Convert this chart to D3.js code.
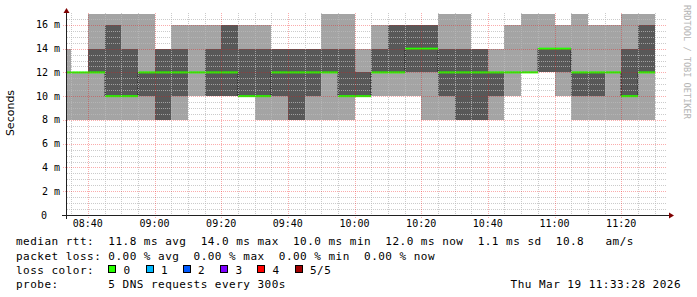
<!DOCTYPE html>
<html><head><meta charset="utf-8">
<script src="https://cdn.jsdelivr.net/npm/d3@7"></script>
<style>
body{margin:0;background:#fff}
svg{display:block}
text{font-family:"DejaVu Sans Mono",monospace;fill:#000}
</style>
</head><body>
<svg id="chart" width="697" height="297"></svg>
<script>
// ---- data (ms), one entry per 5-minute step (step end time) ----
const slotEnd = ["08:35","08:40","08:45","08:50","08:55","09:00","09:05","09:10","09:15","09:20",
  "09:25","09:30","09:35","09:40","09:45","09:50","09:55","10:00","10:05","10:10",
  "10:15","10:20","10:25","10:30","10:35","10:40","10:45","10:50","10:55","11:00",
  "11:05","11:10","11:15","11:20","11:25","11:30"];
const ping1 = [8,8,8,8,8,8,8,8,10,10, 10,10,8,8,8,8,8,8,10,10, 10,10,8,8,8,8,8,10,12,12, 10,8,8,8,8,8];
const ping2 = [12,12,12,10,10,10,8,10,12,10, 10,10,10,10,8,10,12,10,10,12, 12,12,12,10,8,8,10,12,12,12, 12,10,10,12,10,12];
const median = [12,12,12,10,10,12,12,12,12,12, 12,10,10,12,12,12,12,10,10,12, 12,14,14,12,12,12,12,12,12,14, 14,12,12,12,10,12];
const ping4 = [12,12,14,16,14,12,14,14,12,14, 16,14,14,14,14,14,14,14,12,14, 16,16,16,14,14,14,12,12,12,14, 14,12,12,12,14,16];
const ping5 = [14,12,16.9,16.9,16.9,16.9,14,16,16,16, 16,16,16,14,14,14,16.9,16.9,14,16, 16,16,16,16.9,16.9,14,14,16,16.9,16.9, 16,16.9,16,16,16.9,16.9];
const yTicks = [0,2,4,6,8,10,12,14,16];
const xTickLabels = ["08:40","09:00","09:20","09:40","10:00","10:20","10:40","11:00","11:20"];
const lossLabels = ["0","1","2","3","4","5/5"];
const lossColors = ["#26ff00","#00b8ff","#0059ff","#7e00ff","#ff0000","#a10000"];

const day = "2026-03-19 ";
const parseT = d3.timeParse("%Y-%m-%d %H:%M:%S");
const tStart = parseT(day + "08:33:45"), tEnd = parseT(day + "11:33:45");
const svg = d3.select("#chart");

const x = d3.scaleTime().domain([tStart, tEnd]).range([67, 667]);
const y = d3.scaleLinear().domain([0, 17]).range([215, 13]);

const data = slotEnd.map((s, i) => {
  const e = parseT(day + s + ":00");
  return {start: d3.timeMinute.offset(e, -5), end: e, p1: ping1[i], p2: ping2[i], med: median[i], p4: ping4[i], p5: ping5[i]};
});

svg.append("defs").append("clipPath").attr("id","plot")
  .append("rect").attr("x", x.range()[0]).attr("y", y(17)).attr("width", x.range()[1]-x.range()[0]).attr("height", y(0)-y(17));

const g = svg.append("g").attr("clip-path","url(#plot)");
const x0 = d => Math.round(x(Math.max(d.start, tStart)));
// smoke: outer band (min..max) and inner band (2nd..4th)
g.selectAll("rect.outer").data(data).join("rect").attr("class","outer")
  .attr("x", x0).attr("width", d => Math.round(x(d.end)) - x0(d))
  .attr("y", d => y(d.p5)).attr("height", d => y(d.p1) - y(d.p5))
  .attr("fill", "#a4a4a4").attr("shape-rendering","crispEdges");
g.selectAll("rect.inner").data(data).join("rect").attr("class","inner")
  .attr("x", x0).attr("width", d => Math.round(x(d.end)) - x0(d))
  .attr("y", d => y(d.p4)).attr("height", d => y(d.p2) - y(d.p4))
  .attr("fill", "#585858").attr("shape-rendering","crispEdges");

// grid on top
const gridG = svg.append("g").attr("shape-rendering","crispEdges");
const minorY = d3.range(0.5, 17, 0.5).filter(v => v % 2 !== 0);
gridG.selectAll("line.hmin").data(minorY).join("line")
  .attr("x1", 67).attr("x2", 667).attr("y1", d => Math.round(y(d))+0.5).attr("y2", d => Math.round(y(d))+0.5)
  .attr("stroke", "#bababa").attr("stroke-opacity", 0.75).attr("stroke-dasharray","1,1");
const minorX = d3.timeMinute.every(5).range(tStart, tEnd).filter(t => t.getMinutes() % 20 !== 0);
gridG.selectAll("line.vmin").data(minorX).join("line")
  .attr("y1", 13).attr("y2", 215).attr("x1", d => Math.round(x(d))+0.5).attr("x2", d => Math.round(x(d))+0.5)
  .attr("stroke", "#bababa").attr("stroke-opacity", 0.75).attr("stroke-dasharray","1,1");
gridG.selectAll("line.hmaj").data(yTicks.filter(v => v > 0)).join("line")
  .attr("x1", 63).attr("x2", 667).attr("y1", d => Math.round(y(d))+0.5).attr("y2", d => Math.round(y(d))+0.5)
  .attr("stroke", "#f01010").attr("stroke-opacity", 0.35).attr("stroke-dasharray","1,1");
const majorX = xTickLabels.map(s => parseT(day + s + ":00"));
gridG.selectAll("line.vmaj").data(majorX).join("line")
  .attr("y1", 13).attr("y2", 218).attr("x1", d => Math.round(x(d))+0.5).attr("x2", d => Math.round(x(d))+0.5)
  .attr("stroke", "#f01010").attr("stroke-opacity", 0.35).attr("stroke-dasharray","1,1");

// median: dark step line + green loss-coloured segments
const medPts = data.map(d => [Math.max(d.start, tStart), d.med]).concat([[data[data.length-1].end, data[data.length-1].med]]);
g.append("path").datum(medPts)
  .attr("d", d3.line().x(d => Math.round(x(d[0]))).y(d => y(d[1])).curve(d3.curveStepAfter))
  .attr("fill","none").attr("stroke","#202020").attr("stroke-width",1).attr("stroke-dasharray","2,1");
g.selectAll("line.med").data(data).join("line")
  .attr("x1", x0).attr("x2", d => Math.round(x(d.end)))
  .attr("y1", d => y(d.med)).attr("y2", d => y(d.med))
  .attr("stroke", lossColors[0]).attr("stroke-width", 2);

// axes
const axG = svg.append("g").attr("shape-rendering","crispEdges");
axG.append("line").attr("x1", 62).attr("x2", 670).attr("y1", 215.5).attr("y2", 215.5).attr("stroke","#202020");
axG.append("line").attr("x1", 66.5).attr("x2", 66.5).attr("y1", 219).attr("y2", 12).attr("stroke","#202020");
svg.append("path").attr("d","M669,212.5L674,215.5L669,218.5Z").attr("fill","#7f0000");
svg.append("path").attr("d","M63.5,13L66.5,8L69.5,13Z").attr("fill","#7f0000");

// y tick labels
svg.selectAll("text.ytick").data(yTicks).join("text")
  .attr("x", d => d === 0 ? 47 : 60).attr("y", d => y(d) + 3.5)
  .attr("text-anchor","end").attr("font-size", 10)
  .text(d => d === 0 ? "0" : d + " m");
// x tick labels
svg.selectAll("text.xtick").data(majorX).join("text")
  .attr("x", d => x(d)).attr("y", 226.5).attr("text-anchor","middle").attr("font-size", 10)
  .text((d, i) => xTickLabels[i]);

// axis title
svg.append("text").attr("transform","translate(14,113) rotate(-90)").attr("text-anchor","middle")
  .attr("font-size", 11).style("font-family","'DejaVu Sans',sans-serif").text("Seconds");
// watermark
svg.append("text").attr("transform","translate(684,5) rotate(90)").attr("text-anchor","start")
  .attr("font-size", 8.6).style("fill","#b4b4b4").text("RRDTOOL / TOBI OETIKER");

// legend
const fmt1 = d3.format(".1f");
const medAvg = d3.mean(median), medMax = d3.max(median), medMin = d3.min(median), medNow = median[median.length-1];
const legendRows = [
  "median rtt:  " + fmt1(medAvg) + " ms avg  " + fmt1(medMax) + " ms max  " + fmt1(medMin) + " ms min  " + fmt1(medNow) + " ms now  1.1 ms sd  10.8   am/s",
  "packet loss: 0.00 % avg  0.00 % max  0.00 % min  0.00 % now",
  "loss color:",
  "probe:       5 DNS requests every 300s"
];
const rowY = [245, 259.5, 273.5, 288];
const LS = 0.48;
svg.selectAll("text.legrow").data(legendRows).join("text").attr("class","legrow")
  .attr("x", 16).attr("y", (d, i) => rowY[i]).attr("font-size", 11).attr("letter-spacing", LS)
  .style("white-space","pre").text(d => d);
const boxX = [108, 145.5, 182.5, 220, 257, 294.5];
svg.selectAll("rect.lossbox").data(lossLabels).join("rect")
  .attr("x", (d,i) => boxX[i] + 0.5).attr("y", 265.5).attr("width", 7).attr("height", 7)
  .attr("fill", (d,i) => lossColors[i]).attr("stroke","#000").attr("stroke-width",1).attr("shape-rendering","crispEdges");
svg.selectAll("text.losslab").data(lossLabels).join("text")
  .attr("x", (d,i) => boxX[i] + 15.5).attr("y", rowY[2]).attr("font-size", 11).attr("letter-spacing", LS).text(d => d);
svg.append("text").attr("x", 681).attr("y", rowY[3]).attr("text-anchor","end").attr("font-size", 11).attr("letter-spacing", LS)
  .text("Thu Mar 19 11:33:28 2026");
</script>
</body></html>
